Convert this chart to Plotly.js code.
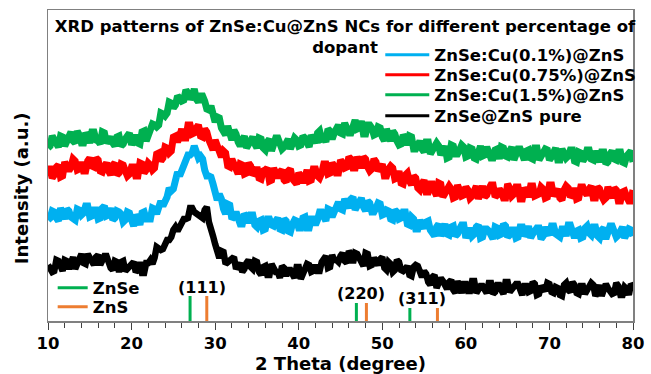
<!DOCTYPE html>
<html>
<head>
<meta charset="utf-8">
<script src="https://cdn.plot.ly/plotly-3.0.1.min.js"></script>
<style>html,body{margin:0;padding:0;background:#fff;}#chart{width:651px;height:374px;}</style>
</head>
<body>
<div id="chart"></div>
<script>
// 2 Theta sampling: starts at 10 deg, one reading every 0.25 deg up to 80 deg
const thetaStart = 10;
const thetaStep = 0.25;

// Intensities (a.u., stacked offsets as in the figure)
const cu01 = [101,103,110,109,103,100,113,107,102,112,110,104,102,101,112,111,106,108,115,115,
104,105,111,111,102,103,113,115,105,106,113,101,103,110,109,107,99,101,109,108,
101,95,106,103,96,108,109,102,102,102,113,112,107,117,120,115,118,124,133,130,
132,143,149,145,150,158,164,166,166,168,175,166,163,165,162,151,145,145,144,137,
125,121,127,122,112,107,117,116,102,104,109,104,97,97,107,105,98,106,106,96,
94,100,101,91,92,102,102,96,95,100,103,92,91,102,100,90,89,97,101,100,
93,93,103,104,93,93,102,102,96,101,109,109,102,100,112,111,104,109,116,119,
112,111,122,117,113,122,124,111,115,120,123,114,110,120,118,109,109,113,118,117,
106,107,111,110,102,101,111,109,102,103,109,109,97,96,104,102,92,92,101,96,
93,99,100,91,87,85,94,97,85,90,97,87,86,94,95,85,87,92,96,96,
83,88,93,85,87,94,96,83,84,92,92,90,83,82,94,93,86,87,97,95,
84,86,91,91,83,84,94,94,85,88,95,83,87,92,93,93,82,85,94,89,
86,95,95,87,84,84,92,92,85,96,96,86,83,90,91,83,84,93,95,88,
86,94,94,85,83,91,93,82,87,95,95,89,84,86,92,94,83,86,92,91,
85];

const cu075 = [152,152,143,146,154,156,144,145,159,155,150,154,162,160,151,152,159,150,150,160,
163,155,154,163,161,150,149,155,158,150,146,156,158,146,148,157,156,150,145,147,
154,154,145,145,158,157,148,151,158,156,151,153,167,168,160,163,174,173,168,170,
184,185,179,184,192,183,183,196,196,187,188,193,196,185,184,192,189,181,175,171,
181,175,165,164,170,168,155,154,162,157,148,147,157,156,147,148,158,155,146,148,
154,143,142,150,151,153,140,141,153,146,143,149,151,141,139,150,152,142,140,137,
148,145,138,148,151,140,141,152,152,145,143,148,157,157,147,148,158,155,148,148,
161,158,153,154,164,162,153,153,164,160,153,164,162,154,150,152,162,159,150,153,
157,145,145,152,155,153,142,143,150,138,137,146,148,140,136,145,143,133,131,137,
141,129,129,137,137,130,125,138,137,124,127,130,135,132,123,124,136,131,125,126,
134,131,123,125,133,135,122,128,135,124,126,132,136,136,124,126,132,129,123,123,
137,133,125,127,134,134,122,122,133,130,124,135,135,125,126,127,134,132,123,124,
136,136,125,128,132,123,121,131,135,133,124,126,133,122,123,134,134,129,126,132,
135,123,123,134,132,125,121,123,134,128,123,133,131,120,120,129,130,124,120,120,
131];

const cu15 = [173,175,185,181,177,174,185,184,175,180,186,189,180,178,190,186,178,178,188,185,
178,189,189,181,180,177,189,188,178,181,184,178,175,184,185,175,177,182,187,188,
176,180,186,178,177,189,190,180,185,193,197,196,194,196,208,207,205,208,219,218,
213,216,225,223,220,221,231,228,222,225,232,222,219,225,225,220,212,211,215,207,
199,204,203,193,189,186,195,190,181,191,187,179,175,181,185,173,176,182,184,177,
173,183,182,173,171,179,182,170,175,183,183,177,172,174,180,182,172,176,183,181,
175,176,185,183,176,174,186,183,178,188,190,182,183,179,192,190,182,188,193,196,
188,187,198,194,188,188,199,201,192,193,200,187,187,196,196,193,186,187,194,193,
184,180,192,186,180,190,187,180,176,177,186,183,176,185,184,172,172,176,180,172,
169,179,179,167,170,174,178,175,166,170,175,163,164,176,175,167,167,171,176,174,
164,165,173,172,163,162,173,175,165,166,174,168,163,163,171,172,162,174,173,165,
164,170,174,161,165,172,172,166,161,170,171,163,162,173,173,161,164,168,172,171,
161,164,171,173,161,161,172,168,163,165,171,171,160,159,169,168,160,163,171,171,
162,161,170,165,159,169,169,157,159,167,170,162,161,169,169,159,158,165,168,170,
159];

const pure = [56,52,49,50,61,60,54,50,61,60,52,59,64,52,57,64,67,58,57,67,
63,58,56,64,66,56,60,65,65,57,53,51,60,59,49,59,60,50,52,54,
58,59,49,51,59,48,48,58,58,61,57,63,74,73,71,72,78,81,81,84,
91,94,90,94,101,102,102,103,113,113,109,107,106,103,103,111,114,99,88,85,
77,71,63,70,69,57,59,62,64,64,52,54,58,49,52,58,61,54,52,60,
59,49,46,54,55,46,46,57,54,49,49,43,55,53,45,51,51,46,43,54,
54,42,46,50,57,56,49,50,56,50,50,59,61,65,53,54,66,61,61,59,
65,68,60,58,70,67,58,68,67,62,60,55,68,67,55,56,63,59,56,62,
64,53,51,59,57,49,51,61,59,51,50,52,55,46,45,54,56,55,46,44,
50,47,39,36,44,46,33,38,43,40,36,32,39,41,31,28,40,35,28,37,
37,30,30,40,40,28,31,35,35,32,28,38,38,27,29,36,36,31,27,39,
39,29,32,33,37,37,28,26,35,35,29,30,39,37,26,27,35,33,30,38,
37,29,28,34,33,26,25,36,38,31,29,39,36,28,27,35,35,27,30,33,
38,36,25,29,36,25,30,37,33,31,27,28,38,35,26,26,34,32,26,37,
35];

// Reference patterns (stick positions in 2 Theta and relative heights)
const znseAngles = [27.0, 46.9, 53.3];
const znseHeights = [25, 18, 13];
const znsAngles = [29.0, 48.1, 56.6];
const znsHeights = [25, 18, 13];

// Miller index labels
const hklLabels = ['(111)', '(220)', '(311)'];
const hklAngles = [28.45, 47.5, 54.8];
const hklHeights = [34, 28, 23];

const seriesNames = ['ZnSe:Cu(0.1%)@ZnS', 'ZnSe:Cu(0.75%)@ZnS', 'ZnSe:Cu(1.5%)@ZnS', 'ZnSe@ZnS pure'];
const seriesColors = ['#00B0F0', '#FF0000', '#00B050', '#000000'];
const seriesWidths = [7, 7, 7, 6.5];
const seriesData = [cu01, cu075, cu15, pure];
const refNames = ['ZnSe', 'ZnS'];
const refColors = ['#00B050', '#ED7D31'];

function sticks(angles, heights) {
  const x = [], y = [];
  angles.forEach((a, i) => { x.push(a, a, null); y.push(0, heights[i], null); });
  return {x, y};
}

const FONT = 'DejaVu Sans, Arial, sans-serif';
const legFont = {family: FONT, size: 16.5, color: '#000', weight: 'bold'};
const traces = [];
const legendTraces = [];
const legendIds = ['legend', 'legend2', 'legend3', 'legend4'];
const legendY = [0.855, 0.791, 0.727, 0.659];
const layoutLegends = {};
seriesData.forEach((d, i) => {
  // the noisy pattern, drawn as a thick band like the original plot
  traces.push({
    type: 'scatter', mode: 'lines', name: seriesNames[i],
    x0: thetaStart, dx: thetaStep, y: d,
    line: {color: seriesColors[i], width: seriesWidths[i]},
    showlegend: false, legendgroup: 'g' + i
  });
  // legend key with a thin line sample
  legendTraces.push({
    type: 'scatter', mode: 'lines', name: seriesNames[i],
    x: [null], y: [null],
    line: {color: seriesColors[i], width: 3},
    legend: legendIds[i], legendgroup: 'g' + i
  });
  layoutLegends[legendIds[i]] = {
    x: 0.568, y: legendY[i], xanchor: 'left', yanchor: 'middle',
    bgcolor: 'rgba(0,0,0,0)', borderwidth: 0, itemwidth: 44, font: legFont
  };
});
const refLegIds = ['legend5', 'legend6'];
const refLegY = [0.106, 0.045];
[sticks(znseAngles, znseHeights), sticks(znsAngles, znsHeights)].forEach((s, i) => {
  traces.push({type: 'scatter', mode: 'lines', name: refNames[i], x: s.x, y: s.y,
    line: {color: refColors[i], width: 3}, legend: refLegIds[i]});
  layoutLegends[refLegIds[i]] = {
    x: 0.008, y: refLegY[i], xanchor: 'left', yanchor: 'middle',
    bgcolor: 'rgba(0,0,0,0)', borderwidth: 0, itemwidth: 30, font: legFont
  };
});

const annotations = hklLabels.map((t, i) => ({
  text: t, x: hklAngles[i], y: hklHeights[i], xref: 'x', yref: 'y',
  showarrow: false, font: {family: FONT, size: 16, color: '#000', weight: 'bold'}
}));
annotations.push({
  text: 'Intensity (a.u.)', textangle: -90, xref: 'paper', yref: 'paper',
  x: -0.044, y: 0.428, xanchor: 'center', yanchor: 'middle', showarrow: false,
  font: {family: FONT, size: 18, color: '#000', weight: 'bold'}
});

const layout = Object.assign({
  width: 651, height: 374,
  margin: {l: 48, r: 13, t: 10, b: 53},
  paper_bgcolor: '#fff', plot_bgcolor: '#fff',
  showlegend: true,
  title: {
    text: 'XRD patterns of ZnSe:Cu@ZnS NCs for different percentage of<br>dopant',
    x: 345 / 651, xanchor: 'center', y: 1 - 32 / 374, yanchor: 'top',
    font: {family: FONT, size: 16.5, color: '#000', weight: 'bold'}
  },
  xaxis: {
    range: [10, 80], dtick: 10, tick0: 10,
    showgrid: false, zeroline: false,
    showline: true, linecolor: '#808080', linewidth: 1.5, mirror: true,
    ticks: 'outside', ticklen: 7, tickwidth: 1, tickcolor: '#404040',
    minor: {dtick: 2, ticks: 'outside', ticklen: 5, tickwidth: 1, tickcolor: '#404040'},
    tickfont: {family: FONT, size: 16.5, color: '#000', weight: 'bold'},
    title: {text: '2 Theta (degree)', standoff: 2,
      font: {family: FONT, size: 18, color: '#000', weight: 'bold'}}
  },
  yaxis: {
    range: [0, 311], showgrid: false, zeroline: false,
    showline: true, linecolor: '#808080', linewidth: 1.5, mirror: true,
    ticks: '', showticklabels: false
  },
  annotations: annotations
}, layoutLegends);

Plotly.newPlot('chart', traces.concat(legendTraces), layout, {staticPlot: true, displayModeBar: false});
</script>
</body>
</html>
